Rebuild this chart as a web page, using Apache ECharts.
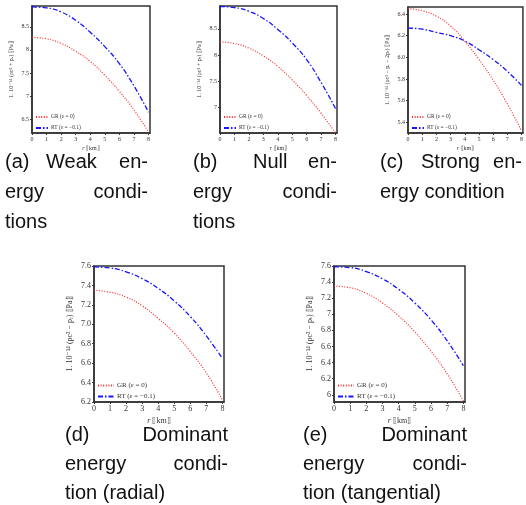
<!DOCTYPE html>
<html>
<head>
<meta charset="utf-8">
<script src="https://cdn.jsdelivr.net/npm/echarts@6/dist/echarts.min.js"></script>
<style>
html, body { margin: 0; padding: 0; background: #fff; }
#chart { width: 526px; height: 505px; }
</style>
</head>
<body>
<div id="chart"></div>
<script>
// radius r [km]
const rValues = [0, 1, 2, 3, 4, 5, 6, 7, 8]
const xTicks = [0, 1, 2, 3, 4, 5, 6, 7, 8]

// (a) weak energy condition
const grWeak = [8.27, 8.24, 8.14, 7.97, 7.75, 7.45, 7.10, 6.70, 6.22]
const rtWeak = [8.93, 8.91, 8.82, 8.64, 8.38, 8.07, 7.70, 7.22, 6.65]
const ticksWeak = [6.5, 7, 7.5, 8, 8.5]

// (b) null energy condition
const grNull = [8.25, 8.22, 8.13, 7.98, 7.78, 7.52, 7.22, 6.88, 6.50]
const rtNull = [8.93, 8.91, 8.84, 8.70, 8.49, 8.23, 7.91, 7.47, 6.97]
const ticksNull = [7, 7.5, 8, 8.5]

// (c) strong energy condition
const grStrong = [6.45, 6.43, 6.38, 6.29, 6.15, 5.98, 5.79, 5.57, 5.32]
const rtStrong = [6.27, 6.26, 6.23, 6.20, 6.15, 6.07, 5.98, 5.87, 5.74]
const ticksStrong = [5.4, 5.6, 5.8, 6.0, 6.2, 6.4]

// (d) dominant energy condition, radial
const grRadial = [7.35, 7.33, 7.28, 7.19, 7.06, 6.91, 6.72, 6.50, 6.22]
const rtRadial = [7.59, 7.58, 7.54, 7.47, 7.37, 7.24, 7.08, 6.88, 6.65]
const ticksRadial = [6.2, 6.4, 6.6, 6.8, 7.0, 7.2, 7.4, 7.6]

// (e) dominant energy condition, tangential
const grTang = [7.35, 7.33, 7.26, 7.14, 6.98, 6.78, 6.54, 6.26, 5.92]
const rtTang = [7.59, 7.58, 7.53, 7.44, 7.31, 7.14, 6.93, 6.67, 6.36]
const ticksTang = [6, 6.2, 6.4, 6.6, 6.8, 7, 7.2, 7.4, 7.6]

const grName = 'GR (ε = 0)'
const rtName = 'RT (ε = −0.1)'

const panels = [
  { gr: grWeak, rt: rtWeak, ticks: ticksWeak, min: 6.2, max: 8.95, fixed: false,
    title: '1. 10⁻³⁴ (ρc² + pᵣ) ⟦Pa⟧',
    left: 32, top: 6, width: 118, height: 127, small: true },
  { gr: grNull, rt: rtNull, ticks: ticksNull, min: 6.5, max: 8.94, fixed: false,
    title: '1. 10⁻³⁴ (ρc² + pₜ) ⟦Pa⟧',
    left: 220, top: 6, width: 117, height: 127, small: true },
  { gr: grStrong, rt: rtStrong, ticks: ticksStrong, min: 5.3, max: 6.465, fixed: true,
    title: '1. 10⁻³⁴ (ρc² − pᵣ − 2pₜ) ⟦Pa⟧',
    left: 408, top: 7, width: 117, height: 126, small: true },
  { gr: grRadial, rt: rtRadial, ticks: ticksRadial, min: 6.2, max: 7.6, fixed: true,
    title: '1. 10⁻³⁴ (ρc² − pᵣ) ⟦Pa⟧',
    left: 94, top: 266, width: 130, height: 136, small: false },
  { gr: grTang, rt: rtTang, ticks: ticksTang, min: 5.91, max: 7.6, fixed: false,
    title: '1. 10⁻³⁴ (ρc² − pₜ) ⟦Pa⟧',
    left: 334, top: 266, width: 131, height: 136, small: false },
]

const serif = '"Liberation Serif", "DejaVu Serif", serif'
const frame = '#333'

const grids = [], xAxes = [], yAxes = [], series = [], legends = []
panels.forEach((p, i) => {
  const fs = p.small ? 6 : 8
  grids.push({ left: p.left, top: p.top, width: p.width, height: p.height,
    show: true, borderColor: frame, borderWidth: 1.5, backgroundColor: 'transparent' })
  xAxes.push({
    type: 'value', gridIndex: i, min: 0, max: 8.1,
    name: '{i|r} ⟦km⟧', nameLocation: 'middle', nameGap: p.small ? 12 : 15,
    nameTextStyle: { fontFamily: serif, fontSize: fs, color: '#333',
      rich: { i: { fontStyle: 'italic', fontFamily: serif, fontSize: fs, color: '#333' } } },
    axisLine: { lineStyle: { color: frame, width: 1.5 } },
    axisTick: { customValues: xTicks, length: 2, lineStyle: { color: frame } },
    axisLabel: { customValues: xTicks, fontFamily: serif, fontSize: fs, color: '#333', margin: 3 },
    splitLine: { show: false },
  })
  yAxes.push({
    type: 'value', gridIndex: i, min: p.min, max: p.max,
    name: p.title, nameLocation: 'middle', nameGap: p.small ? 18 : 20,
    nameTextStyle: { fontFamily: serif, fontSize: fs, color: '#333' },
    axisLine: { lineStyle: { color: frame, width: 1.5 } },
    axisTick: { customValues: p.ticks, length: 2, lineStyle: { color: frame } },
    axisLabel: { customValues: p.ticks, fontFamily: serif, fontSize: fs, color: '#333', margin: 3,
      formatter: v => p.fixed ? v.toFixed(1) : String(+v.toFixed(2)) },
    splitLine: { show: false },
  })
  series.push({
    name: grName, type: 'line', xAxisIndex: i, yAxisIndex: i,
    smooth: true, symbol: 'none', showSymbol: false,
    lineStyle: { color: '#ff2a2a', width: 1.2, type: [1, 1.6] },
    itemStyle: { color: '#ff2a2a' },
    data: rValues.map((r, k) => [r, p.gr[k]]),
  })
  series.push({
    name: rtName, type: 'line', xAxisIndex: i, yAxisIndex: i,
    smooth: true, symbol: 'none', showSymbol: false,
    lineStyle: { color: '#1515ff', width: 1.3, type: [5, 2, 1.5, 2] },
    itemStyle: { color: '#1515ff' },
    data: rValues.map((r, k) => [r, p.rt[k]]),
  })
  legends.push({
    data: [grName, rtName], orient: 'vertical', selectedMode: false,
    left: p.left + 3, top: p.small ? p.top + p.height - 19 : p.top + p.height - 20,
    padding: 0, itemWidth: p.small ? 12 : 16, itemHeight: p.small ? 5 : 6,
    itemGap: p.small ? 5 : 4,
    itemStyle: { opacity: 0 },
    textStyle: { fontFamily: serif, fontSize: p.small ? 5.5 : 7, color: '#333', padding: [0, 0, 0, -2] },
  })
})

const capFont = '20px "Liberation Sans", Arial, sans-serif'
const capWords = [
  ['(a)', 5, 162, 'left'], ['Weak', 46, 162, 'left'], ['en-', 148, 162, 'right'],
  ['ergy', 5, 192, 'left'], ['condi-', 148, 192, 'right'], ['tions', 5, 222, 'left'],
  ['(b)', 193, 162, 'left'], ['Null', 253, 162, 'left'], ['en-', 337, 162, 'right'],
  ['ergy', 193, 192, 'left'], ['condi-', 337, 192, 'right'], ['tions', 193, 222, 'left'],
  ['(c)', 380, 162, 'left'], ['Strong', 421, 162, 'left'], ['en-', 522, 162, 'right'],
  ['ergy condition', 380, 192, 'left'],
  ['(d)', 65, 435, 'left'], ['Dominant', 228, 435, 'right'],
  ['energy', 65, 464, 'left'], ['condi-', 228, 464, 'right'], ['tion (radial)', 65, 493, 'left'],
  ['(e)', 303, 435, 'left'], ['Dominant', 467, 435, 'right'],
  ['energy', 303, 464, 'left'], ['condi-', 467, 464, 'right'], ['tion (tangential)', 303, 493, 'left'],
]

const chart = echarts.init(document.getElementById('chart'))
chart.setOption({
  animation: false,
  grid: grids,
  xAxis: xAxes,
  yAxis: yAxes,
  legend: legends,
  series: series,
  graphic: capWords.map(w => ({
    type: 'text', x: w[1], y: w[2],
    style: { text: w[0], font: capFont, fill: '#111', align: w[3], verticalAlign: 'middle' },
  })),
})
</script>
</body>
</html>
